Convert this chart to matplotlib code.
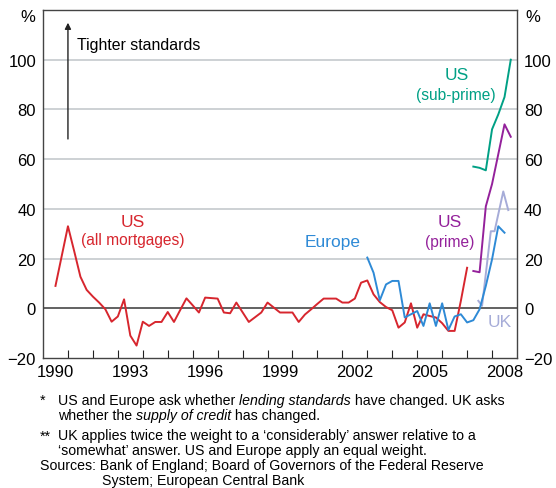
import numpy as np
import matplotlib
matplotlib.use("Agg")
from matplotlib import pyplot as plt
from matplotlib.transforms import IdentityTransform

plt.rcParams["font.family"] = ["Liberation Sans", "DejaVu Sans"]

# US (all mortgages), quarterly from 1990.5
us_all_start = 1990.5
us_all = [9, 21, 33, 23, 12.7, 7.4, 4.7, 2.3, -0.4, -5.4, -3.3, 3.6,
          -11, -15, -5.4, -7.1, -5.5, -5.5, -1.5, -5.5, -0.7, 4, 1.2, -1.7,
          4.3, 4.1, 3.9, -1.7, -2, 2.3, -1.6, -5.5, -3.6, -1.7, 2.3, 0.3,
          -1.7, -1.7, -1.7, -5.5, -2.5, -0.4, 1.8, 3.9, 3.9, 3.9, 2.3, 2.3,
          3.9, 10.3, 11.2, 5.6, 2.5, 0.5, -0.8, -7.8, -5.7, 2, -7.8, -2.4,
          -3.1, -3.7, -6, -9.1, -9.1, 3, 16.3]

# Europe, quarterly from 2003
europe_start = 2003.0
europe = [20.4, 14.3, 3.2, 9.6, 11, 11, -3.7, -2.4, -1.1, -7.1, 2, -7.1,
          2, -8.7, -3.3, -2.4, -5.7, -4.8, -0.4, 9, 19.7, 33, 30.4]

# US prime / sub-prime, quarterly from 2007.25
us_split_start = 2007.25
us_prime = [15, 14.5, 41, 50, 62, 74, 69]
us_subprime = [57, 56.5, 55.5, 72, 78, 85, 100]

# UK
uk_dates = [2007.45, 2007.6, 2007.95, 2008.1, 2008.45, 2008.65]
uk = [3, 1, 31, 31, 47, 39.5]

year_labels = [1990, 1993, 1996, 1999, 2002, 2005, 2008]
y_ticks = [-20, 0, 20, 40, 60, 80, 100]

RED = "#d7262e"
BLUE = "#2e8ad6"
TEAL = "#00a085"
PURPLE = "#94219b"
LAV = "#a6acd8"


def quarterly(start, values):
    return start + 0.25 * np.arange(len(values))


fig = plt.figure(figsize=(5.56, 4.89), dpi=100)
ax = fig.add_axes([43 / 556, 1 - 359 / 489, (517 - 43) / 556, (359 - 11) / 489])

ax.set_xlim(1990, 2009)
ax.set_ylim(-20, 120)

for y in [20, 40, 60, 80, 100]:
    ax.axhline(y, color="#c5c9cd", lw=1.2, zorder=1)
ax.axhline(0, color="#555555", lw=1.3, zorder=2)

lw = 1.4
ax.plot(quarterly(us_all_start, us_all), us_all, color=RED, lw=lw, zorder=3)
ax.plot(quarterly(europe_start, europe), europe, color=BLUE, lw=lw, zorder=4)
ax.plot(uk_dates, uk, color=LAV, lw=lw, zorder=3)
ax.plot(quarterly(us_split_start, us_prime), us_prime, color=PURPLE, lw=lw, zorder=3)
ax.plot(quarterly(us_split_start, us_subprime), us_subprime, color=TEAL, lw=lw, zorder=3)

# axes styling
for s in ax.spines.values():
    s.set_color("#444444")
    s.set_linewidth(1.0)
ax.set_xticks(np.arange(1991, 2009), minor=False)
ax.set_xticklabels([])
ax.tick_params(axis="x", which="major", direction="in", length=6, color="#222222", width=0.8)
ax.set_xticks([y + 0.5 for y in year_labels], minor=True)
ax.set_xticklabels([str(y) for y in year_labels], minor=True)
ax.tick_params(axis="x", which="minor", length=0, labelsize=12, pad=4)
ax.set_yticks(y_ticks)
ax.tick_params(axis="y", length=0, labelsize=12, labelleft=True, labelright=True, pad=5)

# series labels
ax.text(1993.6, 35, "US", color=RED, fontsize=12.5, ha="center", va="center")
ax.text(1993.6, 27.5, "(all mortgages)", color=RED, fontsize=11.2, ha="center", va="center")
ax.text(2001.6, 27, "Europe", color=BLUE, fontsize=12.5, ha="center", va="center")
ax.text(2006.3, 35, "US", color=PURPLE, fontsize=12.5, ha="center", va="center")
ax.text(2006.3, 27, "(prime)", color=PURPLE, fontsize=11.2, ha="center", va="center")
ax.text(2006.6, 94, "US", color=TEAL, fontsize=12.5, ha="center", va="center")
ax.text(2006.55, 86, "(sub-prime)", color=TEAL, fontsize=11.2, ha="center", va="center")
ax.text(2008.3, -5.5, "UK", color=LAV, fontsize=12.5, ha="center", va="center")

# tighter standards arrow
ax.annotate("", xy=(1991.0, 116), xytext=(1991.0, 67),
            arrowprops=dict(arrowstyle="-|>", color="#222222", lw=1.0, mutation_scale=9))
ax.text(1991.35, 106, "Tighter standards", fontsize=11.4, ha="left", va="center")

fig.text(28 / 556, 1 - 18 / 489, "%", fontsize=12, ha="center", va="center")
fig.text(533 / 556, 1 - 18 / 489, "%", fontsize=12, ha="center", va="center")

# footnotes: (x, baseline y in px from top, [(text, italic), ...])
fs = 10.2
notes = [
    (40, 405, [("*", False)]),
    (58, 405, [("US and Europe ask whether ", False), ("lending standards", True),
               (" have changed. UK asks", False)]),
    (58, 420, [("whether the ", False), ("supply of credit", True), (" has changed.", False)]),
    (40, 441, [("**", False)]),
    (58, 440, [("UK applies twice the weight to a \u2018considerably\u2019 answer relative to a", False)]),
    (58, 455, [("\u2018somewhat\u2019 answer. US and Europe apply an equal weight.", False)]),
    (40, 470, [("Sources: Bank of England; Board of Governors of the Federal Reserve", False)]),
    (102, 485, [("System; European Central Bank", False)]),
]
renderer = fig.canvas.get_renderer()
for x, y, parts in notes:
    # pieces laid out left to right in pixel space so italics sit inline
    px, py = x, 489 - y
    for s, ital in parts:
        t = fig.text(px, py, s, fontsize=fs, style="italic" if ital else "normal",
                     ha="left", va="baseline", transform=IdentityTransform())
        px = t.get_window_extent(renderer).x1

fig.savefig("out.png", dpi=100)
